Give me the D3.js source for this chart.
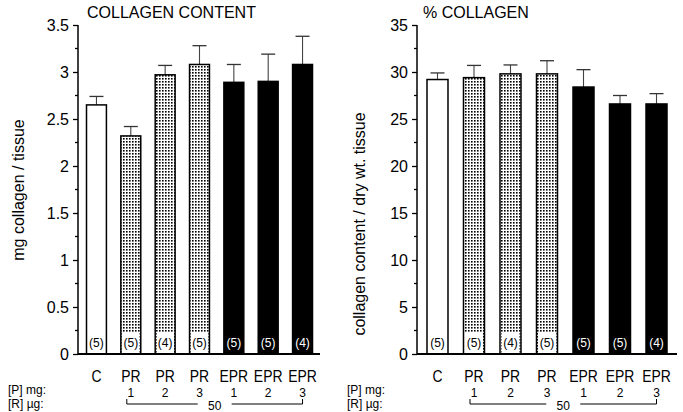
<!DOCTYPE html>
<html>
<head>
<meta charset="utf-8">
<script src="https://cdn.jsdelivr.net/npm/d3@7"></script>
<style>
  body { margin: 0; background: #fff; }
  svg { font-family: "Liberation Sans", Arial, Helvetica, sans-serif; }
</style>
</head>
<body>
<svg id="chart" width="683" height="412"></svg>
<script>
// groups along the x axis
const groupIds = ["C", "PR1", "PR2", "PR3", "EPR1", "EPR2", "EPR3"];
const groupLabels = ["C", "PR", "PR", "PR", "EPR", "EPR", "EPR"];
const groupFill = ["open", "dot", "dot", "dot", "solid", "solid", "solid"];
const pDose = ["", "1", "2", "3", "1", "2", "3"];
const nCounts = [5, 5, 4, 5, 5, 5, 4];

// collagen content, mg / tissue
const contentMean = [2.65, 2.32, 2.97, 3.08, 2.89, 2.90, 3.08];
const contentSem = [0.09, 0.10, 0.10, 0.20, 0.19, 0.29, 0.30];
const contentTicks = [0, 0.5, 1, 1.5, 2, 2.5, 3, 3.5];

// % collagen
const percentMean = [29.2, 29.4, 29.8, 29.8, 28.4, 26.6, 26.6];
const percentSem = [0.7, 1.3, 0.95, 1.4, 1.85, 0.9, 1.1];
const percentTicks = [0, 5, 10, 15, 20, 25, 30, 35];

const svg = d3.select("#chart");

// stipple pattern for the PR bars
const defs = svg.append("defs");
defs.append("pattern")
    .attr("id", "dots")
    .attr("width", 3)
    .attr("height", 3)
    .attr("patternUnits", "userSpaceOnUse")
    .append("rect")
    .attr("width", 1.6)
    .attr("height", 1.6)
    .attr("fill", "#000");

const plotTop = 25, plotBottom = 354;

function fillFor(t) {
    if (t === "solid") return "#000";
    if (t === "dot") return "url(#dots)";
    return "#fff";
}

function drawPanel(o) {
    const g = svg.append("g");

    const x = d3.scaleBand()
        .domain(groupIds)
        .range(o.barRange)
        .paddingInner(o.pad)
        .paddingOuter(0);

    const y = d3.scaleLinear()
        .domain([0, o.max])
        .range([plotBottom, plotTop]);

    const rows = groupIds.map(function(id, i) {
        return {id: id, label: groupLabels[i], fill: groupFill[i], dose: pDose[i],
            n: nCounts[i], mean: o.mean[i], sem: o.sem[i]};
    });

    const cx = function(d) { return x(d.id) + x.bandwidth() / 2; };

    // error bars (upper only)
    g.selectAll(".err")
        .data(rows)
        .enter()
        .append("line")
        .attr("x1", cx)
        .attr("x2", cx)
        .attr("y1", function(d) { return y(d.mean); })
        .attr("y2", function(d) { return y(d.mean + d.sem); })
        .attr("stroke", "#444")
        .attr("stroke-width", 1.1);

    g.selectAll(".cap")
        .data(rows)
        .enter()
        .append("line")
        .attr("x1", function(d) { return cx(d) - 7; })
        .attr("x2", function(d) { return cx(d) + 7; })
        .attr("y1", function(d) { return y(d.mean + d.sem); })
        .attr("y2", function(d) { return y(d.mean + d.sem); })
        .attr("stroke", "#333")
        .attr("stroke-width", 1.3);

    // bars
    g.selectAll(".bar")
        .data(rows)
        .enter()
        .append("rect")
        .attr("x", function(d) { return x(d.id); })
        .attr("y", function(d) { return y(d.mean); })
        .attr("width", x.bandwidth())
        .attr("height", function(d) { return y(0) - y(d.mean); })
        .attr("fill", function(d) { return fillFor(d.fill); })
        .attr("stroke", "#000")
        .attr("stroke-width", 1.5);

    // white label boxes in stippled bars
    g.selectAll(".nbox")
        .data(rows.filter(function(d) { return d.fill === "dot"; }))
        .enter()
        .append("rect")
        .attr("x", function(d) { return x(d.id) + 1.5; })
        .attr("y", plotBottom - 22)
        .attr("width", x.bandwidth() - 3)
        .attr("height", 21)
        .attr("fill", "#fff");

    g.selectAll(".nlab")
        .data(rows)
        .enter()
        .append("text")
        .attr("x", cx)
        .attr("y", plotBottom - 7)
        .attr("text-anchor", "middle")
        .attr("font-size", 12)
        .attr("fill", function(d) { return d.fill === "solid" ? "#fff" : "#000"; })
        .text(function(d) { return "(" + d.n + ")"; });

    // y axis
    const minor = d3.range(0, o.max, o.max / 14).filter(function(v, i) { return i % 2 === 1; });
    const yAxis = d3.axisLeft(y).tickValues(o.ticks).tickSize(5).tickPadding(4)
        .tickFormat(function(d) { return String(d); });
    const ya = g.append("g")
        .attr("transform", "translate(" + o.axisX + ",0)")
        .call(yAxis);
    ya.select(".domain").attr("stroke-width", 1.5).attr("d", "M0," + plotTop + "V" + plotBottom);
    ya.selectAll(".tick line").attr("stroke-width", 1.3);
    ya.selectAll("text").attr("font-size", 16).attr("fill", "#000");
    ya.selectAll(".minor")
        .data(minor)
        .enter()
        .append("line")
        .attr("x1", -3)
        .attr("x2", 0)
        .attr("y1", function(d) { return y(d); })
        .attr("y2", function(d) { return y(d); })
        .attr("stroke", "#000")
        .attr("stroke-width", 1.3);

    // x baseline
    g.append("line")
        .attr("x1", o.axisX)
        .attr("x2", o.axisEnd)
        .attr("y1", y(0))
        .attr("y2", y(0))
        .attr("stroke", "#000")
        .attr("stroke-width", 2);

    // category labels (narrow face, like the original type)
    g.selectAll(".cat")
        .data(rows)
        .enter()
        .append("text")
        .attr("transform", function(d) { return "translate(" + cx(d) + ",382) scale(0.82,1)"; })
        .attr("text-anchor", "middle")
        .attr("font-size", 17)
        .text(function(d) { return d.label; });

    g.selectAll(".dose")
        .data(rows)
        .enter()
        .append("text")
        .attr("x", cx)
        .attr("y", 397)
        .attr("text-anchor", "middle")
        .attr("font-size", 12)
        .text(function(d) { return d.dose; });

    g.append("text")
        .attr("x", o.axisX - 70)
        .attr("y", 394)
        .attr("font-size", 12)
        .text("[P] mg:");
    g.append("text")
        .attr("x", o.axisX - 70)
        .attr("y", 408)
        .attr("font-size", 12)
        .text("[R] \u00b5g:");

    // bracket for 50 µg
    const bx1 = x("PR1") + x.bandwidth() / 2 - 4;
    const bx2 = x("EPR3") + x.bandwidth() / 2;
    const bmid = (bx1 + bx2) / 2;
    g.append("path")
        .attr("d", "M" + bx1 + ",399V404H" + (bmid - 17) + "M" + (bmid + 17) + ",404H" + bx2 + "V399")
        .attr("fill", "none")
        .attr("stroke", "#000")
        .attr("stroke-width", 1);
    g.append("text")
        .attr("x", bmid)
        .attr("y", 410)
        .attr("text-anchor", "middle")
        .attr("font-size", 12)
        .text("50");

    // titles
    g.append("text")
        .attr("x", o.titleX)
        .attr("y", 18)
        .attr("font-size", 16)
        .text(o.title);

    g.append("text")
        .attr("transform", "translate(" + o.labelX + "," + o.labelY + ") rotate(-90)")
        .attr("text-anchor", "middle")
        .attr("font-size", 16)
        .text(o.yLabel);
}

drawPanel({
    mean: contentMean, sem: contentSem, ticks: contentTicks, max: 3.5,
    barRange: [86.5, 312.5], pad: 0.42, axisX: 78, axisEnd: 320,
    title: "COLLAGEN CONTENT", titleX: 87,
    yLabel: "mg collagen / tissue", labelX: 24, labelY: 190
});

drawPanel({
    mean: percentMean, sem: percentSem, ticks: percentTicks, max: 35,
    barRange: [427, 667], pad: 0.425, axisX: 417, axisEnd: 677,
    title: "% COLLAGEN", titleX: 423,
    yLabel: "collagen content / dry wt. tissue", labelX: 365, labelY: 224
});
</script>
</body>
</html>
